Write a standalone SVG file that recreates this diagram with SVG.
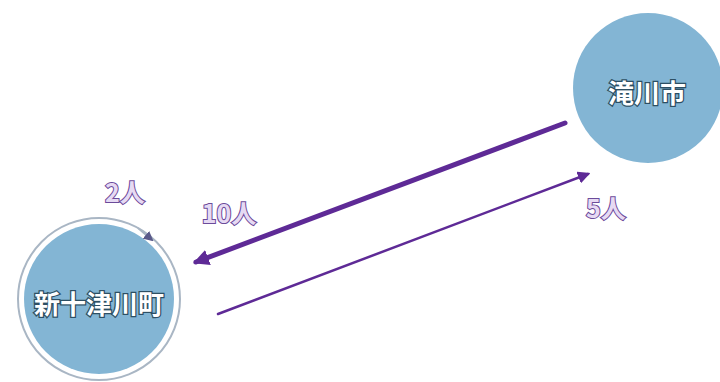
<svg xmlns="http://www.w3.org/2000/svg" width="720" height="382" viewBox="0 0 720 382">
<style>
.node{fill:#83b5d4}
.ntext{font-family:"Noto Sans CJK JP","Noto Sans CJK SC",sans-serif;font-weight:bold;font-size:26px;fill:#ffffff;stroke:#2d4f63;stroke-width:2.5px;paint-order:stroke;text-anchor:middle;dominant-baseline:central}
.lbl{font-family:"Noto Sans CJK JP","Noto Sans CJK SC",sans-serif;font-weight:bold;font-size:25px;fill:#e6daf3;stroke:#6b4b9a;stroke-width:2px;paint-order:stroke;text-anchor:middle;dominant-baseline:central}
.edge{fill:none;stroke:#5e2a96;stroke-linecap:round}
</style>
<defs>
<marker id="ah" viewBox="0 0 10 10" refX="8" refY="5" markerWidth="3.2" markerHeight="3.2" orient="auto" markerUnits="strokeWidth">
<path d="M0,0 L10,5 L0,10 z" fill="#5e2a96"/>
</marker>
<marker id="ah2" viewBox="0 0 10 10" refX="8" refY="5" markerWidth="5" markerHeight="5" orient="auto" markerUnits="strokeWidth">
<path d="M0,0 L10,5 L0,10 z" fill="#5e2a96"/>
</marker>
<marker id="ahg" viewBox="0 0 10 10" refX="8" refY="5" markerWidth="5" markerHeight="5" orient="auto" markerUnits="strokeWidth">
<path d="M0,0 L10,5 L0,10 z" fill="#5a5a8a"/>
</marker>
</defs>
<rect width="720" height="382" fill="#ffffff"/>
<g id="connectors">
<line class="edge" x1="565" y1="123" x2="196" y2="262" stroke-width="5" marker-end="url(#ah)"/>
<line class="edge" x1="218" y1="314" x2="588" y2="174" stroke-width="2.5" marker-end="url(#ah2)"/>
</g>
<g id="node-shintotsukawa">
<circle class="node" cx="99" cy="299" r="75"/>
<circle cx="99" cy="299" r="81" fill="none" stroke="#a9b6c4" stroke-width="2"/>
<path d="M138,228 L152,240" fill="none" stroke="#a9b6c4" stroke-width="2" marker-end="url(#ahg)"/>
<text class="ntext" x="99" y="302">新十津川町</text>
</g>
<g id="node-takikawa">
<circle class="node" cx="648" cy="88" r="75"/>
<text class="ntext" x="647" y="91">滝川市</text>
</g>
<g id="labels">
<text class="lbl" x="125" y="191">2人</text>
<text class="lbl" x="229" y="212">10人</text>
<text class="lbl" x="606" y="207">5人</text>
</g>
</svg>
